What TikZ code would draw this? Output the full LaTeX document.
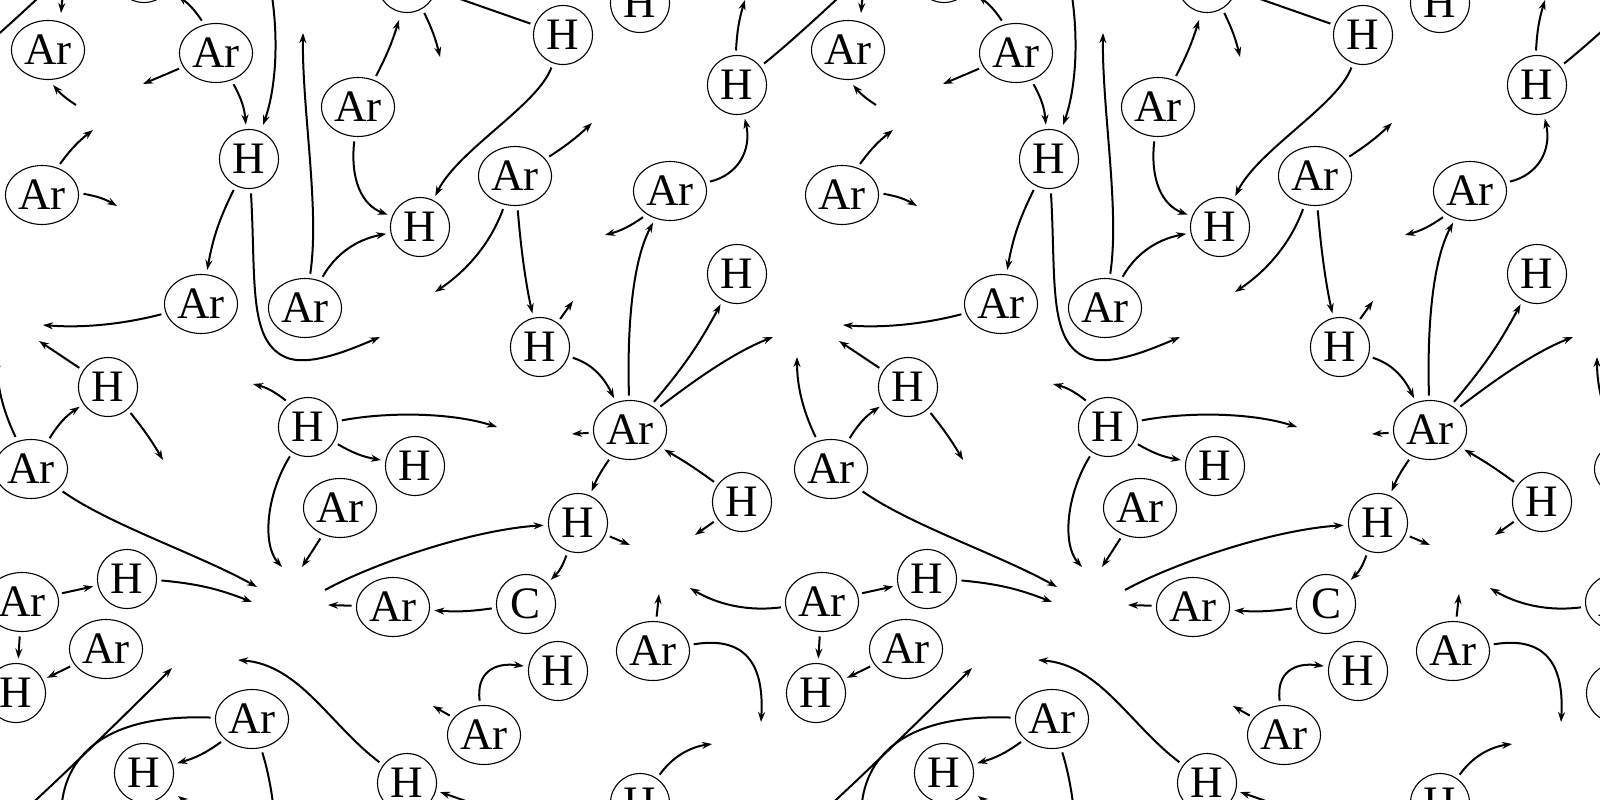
\documentclass[tikz,border=0pt]{standalone}
\usepackage{fontspec}
\newfontfamily\atomfont{Liberation Serif}
\usetikzlibrary{shapes.geometric,arrows.meta}
\tikzset{
  atom/.style={draw, line width=1.1pt, inner sep=0pt, outer sep=5pt, font=\atomfont\fontsize{45pt}{50pt}\selectfont},
  hnode/.style={atom, circle, minimum size=59pt},
  arnode/.style={atom, ellipse, minimum width=73pt, minimum height=59pt},
  ed/.style={line width=2pt, -{Stealth[length=10pt,width=7pt]}},
}
% an atom whose label is set only when the copy can be seen
\newcommand\atom[5]{%
  \pgfmathtruncatemacro\atomvis{and(and(#3+\dx>-38,#3+\dx<1638),and(#4+\dy>-31,#4+\dy<831))}%
  \node[#2] (#1) at (#3,#4) {\ifnum\atomvis=1 #5\fi};%
}
\newcommand\drawtile{%
\atom{n1}{arnode}{48}{50}{Ar}
\atom{n2}{arnode}{216}{53}{Ar}
\atom{n3}{hnode}{249}{159}{H}
\atom{n4}{arnode}{42}{195}{Ar}
\atom{n5}{arnode}{358}{107}{Ar}
\atom{n6}{hnode}{563}{35}{H}
\atom{n7}{hnode}{737}{85}{H}
\atom{n8}{arnode}{515}{176}{Ar}
\atom{n9}{hnode}{420}{227}{H}
\atom{n10}{arnode}{670}{191}{Ar}
\atom{n11}{hnode}{737}{274}{H}
\atom{n12}{arnode}{201}{304}{Ar}
\atom{n13}{arnode}{305}{308}{Ar}
\atom{n14}{hnode}{540}{347}{H}
\atom{n15}{hnode}{108}{387}{H}
\atom{n16}{hnode}{308}{427}{H}
\atom{n17}{arnode}{630}{430}{Ar}
\atom{n18}{hnode}{415}{466}{H}
\atom{n19}{arnode}{31}{469}{Ar}
\atom{n20}{arnode}{340}{508}{Ar}
\atom{n21}{hnode}{578}{523}{H}
\atom{n22}{hnode}{742}{502}{H}
\atom{n23}{hnode}{127}{579}{H}
\atom{n24}{arnode}{22}{602}{Ar}
\atom{n25}{arnode}{393}{607}{Ar}
\atom{n26}{hnode}{526}{604}{C}
\atom{n27}{arnode}{106}{649}{Ar}
\atom{n28}{hnode}{16}{693}{H}
\atom{n29}{arnode}{653}{651}{Ar}
\atom{n30}{hnode}{558}{671}{H}
\atom{n31}{arnode}{252}{719}{Ar}
\atom{n32}{hnode}{144}{773}{H}
\atom{n33}{arnode}{484}{735}{Ar}
\atom{n34}{hnode}{407}{783}{H}
\atom{n35}{hnode}{640}{803}{H}
\coordinate (f1) at (972,-132);
\coordinate (f2) at (61,813);
\coordinate (g3) at (76,105);
\coordinate (f3) at (53,85);
\coordinate (f4) at (93,130);
\coordinate (f5) at (117,206);
\coordinate (f6) at (143,84);
\coordinate (f7) at (178,-4);
\coordinate (f9) at (263,925);
\coordinate (f10) at (303,33);
\coordinate (f12) at (380,337);
\coordinate (f14) at (399,20);
\coordinate (f16) at (440,857);
\coordinate (f17) at (440,-8);
\coordinate (f19) at (592,123);
\coordinate (f20) at (435,292);
\coordinate (f23) at (605,235);
\coordinate (f25) at (43,325);
\coordinate (f26) at (-3,357);
\coordinate (f27) at (39,341);
\coordinate (f29) at (163,460);
\coordinate (f30) at (253,384);
\coordinate (f31) at (497,427);
\coordinate (f33) at (282,567);
\coordinate (f34) at (302,567);
\coordinate (f35) at (257,587);
\coordinate (f36) at (573,301);
\coordinate (f38) at (572,434);
\coordinate (f40) at (773,337);
\coordinate (f43) at (695,535);
\coordinate (g44) at (325,590);
\coordinate (f45) at (630,545);
\coordinate (f49) at (252,602);
\coordinate (f52) at (328,605);
\coordinate (f54) at (238,660);
\coordinate (f57) at (433,706);
\coordinate (f58) at (659,594);
\coordinate (f59) at (761,722);
\coordinate (f60) at (-110,588);
\coordinate (f61) at (712,744);
\coordinate (f62) at (745,0);
\draw[ed] (n7) .. controls (800,35) and (880,-40) .. (f1);
\draw[ed] (n31) .. controls (110,714) and (66,752) .. (f2);
\draw[ed] (g3) to[bend left=8] (f3);
\draw[ed] (n4) to[bend left=8] (f4);
\draw[ed] (n4) to[bend left=10] (f5);
\draw[ed] (n2) -- (f6);
\draw[ed] (n2) to[bend right=10] (f7);
\draw[ed] (n2) to[bend left=12] (n3);
\draw[ed] (n31) .. controls (280,810) and (279,880) .. (f9);
\draw[ed] (n13) .. controls (320,210) and (302,110) .. (f10);
\draw[ed] (n3) to[bend right=8] (n12);
\draw[ed] (n3) .. controls (256,280) and (248,340) .. (285,357) .. controls (307,367) and (345,352) .. (f12);
\draw[ed] (n5) .. controls (350,180) and (362,205) .. (n9);
\draw[ed] (n5) to[bend right=5] (f14);
\draw[ed] (n13) .. controls (335,255) and (355,240) .. (n9);
\draw[ed] (n34) to[bend left=6] (f16);
\draw[ed] (n6) -- (f17);
\draw[ed] (n6) .. controls (538,105) and (458,150) .. (n9);
\draw[ed] (n8) to[bend right=5] (f19);
\draw[ed] (n8) .. controls (490,245) and (465,272) .. (f20);
\draw[ed] (n8) .. controls (521,250) and (526,285) .. (n14);
\draw[ed] (n10) .. controls (738,175) and (752,150) .. (n7);
\draw[ed] (n10) to[bend left=10] (f23);
\draw[ed] (n17) .. controls (627,330) and (632,262) .. (n10);
\draw[ed] (n12) .. controls (120,325) and (80,328) .. (f25);
\draw[ed] (n19) .. controls (5,415) and (-3,390) .. (f26);
\draw[ed] (n15) -- (f27);
\draw[ed] (n19) to[bend left=12] (n15);
\draw[ed] (n15) to[bend left=4] (f29);
\draw[ed] (n16) to[bend right=12] (f30);
\draw[ed] (n16) .. controls (385,412) and (450,412) .. (f31);
\draw[ed] (n16) to[bend right=10] (n18);
\draw[ed] (n16) .. controls (266,495) and (262,545) .. (f33);
\draw[ed] (n20) -- (f34);
\draw[ed] (n19) .. controls (110,525) and (200,555) .. (f35);
\draw[ed] (n14) -- (f36);
\draw[ed] (n14) .. controls (595,365) and (605,380) .. (n17);
\draw[ed] (n17) -- (f38);
\draw[ed] (n17) to[bend right=6] (n11);
\draw[ed] (n17) .. controls (705,372) and (740,350) .. (f40);
\draw[ed] (n17) to[bend right=6] (n21);
\draw[ed] (n22) to[bend right=3] (n17);
\draw[ed] (n22) -- (f43);
\draw[ed] (g44) .. controls (370,565) and (470,530) .. (n21);
\draw[ed] (n21) -- (f45);
\draw[ed] (n21) to[bend left=13] (n26);
\draw[ed] (n26) to[bend left=6] (n25);
\draw[ed] (n24) -- (n23);
\draw[ed] (n23) to[bend left=8] (f49);
\draw[ed] (n24) -- (n28);
\draw[ed] (n27) -- (n28);
\draw[ed] (n25) -- (f52);
\draw[ed] (n31) to[bend left=10] (n32);
\draw[ed] (n34) .. controls (330,725) and (300,665) .. (f54);
\draw[ed] (n33) .. controls (476,672) and (495,662) .. (n30);
\draw[ed] (n33) -- (f57);
\draw[ed] (n29) -- (f58);
\draw[ed] (n29) .. controls (750,635) and (764,670) .. (f59);
\draw[ed] (n24) .. controls (-55,612) and (-85,603) .. (f60);
\draw[ed] (n35) .. controls (672,757) and (690,747) .. (f61);
\draw[ed] (n7) to[bend left=7] (f62);
}
\begin{document}
\begin{tikzpicture}[x=1pt,y=-1pt]
\useasboundingbox (0,0) rectangle (1600,800);
\fill[white] (0,0) rectangle (1600,800);
\clip (0,0) rectangle (1600,800);
\foreach \dx in {-800,0,800,1600}{%
  \foreach \dy in {-800,0,800}{%
    \begin{scope}[shift={(\dx,\dy)}]
      \drawtile
    \end{scope}
  }
}
\end{tikzpicture}
\end{document}
